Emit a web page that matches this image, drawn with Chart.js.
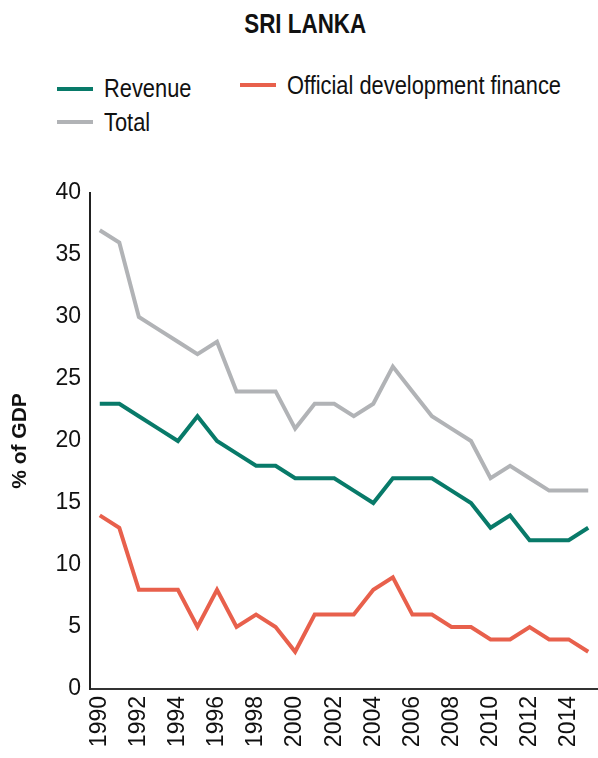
<!DOCTYPE html>
<html>
<head>
<meta charset="utf-8">
<script src="https://cdn.jsdelivr.net/npm/chart.js@4.4.1/dist/chart.umd.min.js"></script>
<style>
  html, body { margin: 0; padding: 0; background: #fff; }
  #wrap { position: relative; width: 598px; height: 758px; font-family: "Liberation Sans", Arial, sans-serif; color: #111; }
  #title { position: absolute; left: 0; width: 610px; top: 10px; text-align: center; }
  #title span { display: inline-block; font-weight: bold; font-size: 28px; line-height: 28px; transform: scaleX(0.8); }
  .lg { position: absolute; font-size: 26px; line-height: 26px; white-space: nowrap; transform: scaleX(0.84); transform-origin: 0 0; }
  .sw { position: absolute; width: 36px; height: 4px; }
  canvas { position: absolute; left: 0; top: 0; }
</style>
</head>
<body>
<div id="wrap">
  <div id="title"><span>SRI LANKA</span></div>
  <div class="sw" style="left:57px;top:87px;background:#087a69"></div>
  <div class="lg" style="left:104px;top:75px">Revenue</div>
  <div class="sw" style="left:240px;top:83px;background:#e8604c"></div>
  <div class="lg" style="left:287px;top:72px">Official development finance</div>
  <div class="sw" style="left:57px;top:120px;background:#b1b3b6"></div>
  <div class="lg" style="left:104px;top:109px">Total</div>
  <canvas id="c" width="598" height="758"></canvas>
</div>
<script>
// years 1990-2015
const years = ["1990","1991","1992","1993","1994","1995","1996","1997","1998","1999","2000","2001","2002",
  "2003","2004","2005","2006","2007","2008","2009","2010","2011","2012","2013","2014","2015"];
const revenue = [23,23,22,21,20,22,20,19,18,18,17,17,17,16,15,17,17,17,16,15,13,14,12,12,12,13];
const odf     = [14,13,8,8,8,5,8,5,6,5,3,6,6,6,8,9,6,6,5,5,4,4,5,4,4,3];
const total   = [37,36,30,29,28,27,28,24,24,24,21,23,23,22,23,26,24,22,21,20,17,18,17,16,16,16];

const sans = "'Liberation Sans', Arial, sans-serif";

new Chart(document.getElementById("c"), {
  type: "line",
  data: {
    labels: years,
    datasets: [
      { label: "Total", data: total, borderColor: "#b1b3b6" },
      { label: "Revenue", data: revenue, borderColor: "#087a69" },
      { label: "Official development finance", data: odf, borderColor: "#e8604c" }
    ]
  },
  options: {
    responsive: false,
    animation: false,
    datasets: { line: { borderWidth: 4, pointRadius: 0, tension: 0, fill: false } },
    layout: { padding: { top: 193, left: 0, right: 0, bottom: 0 } },
    plugins: { legend: { display: false }, tooltip: { enabled: false } },
    scales: {
      x: {
        offset: true,
        grid: { display: false, drawTicks: false },
        border: { display: true, color: "#333", width: 2 },
        ticks: {
          autoSkip: false, maxRotation: 90, minRotation: 90, padding: 7,
          color: "#111", font: { family: sans, size: 23 },
          callback: (v, i) => (i % 2 === 0 ? years[i] : "")
        },
        afterFit: (s) => { s.height = 69; s.paddingLeft = 0; s.paddingRight = 0; }
      },
      y: {
        min: 0, max: 40,
        grid: { display: false, drawTicks: false },
        border: { display: true, color: "#222", width: 2 },
        ticks: { stepSize: 5, padding: 9, color: "#111", font: { family: sans, size: 23 } },
        title: { display: true, text: "% of GDP", color: "#111", padding: { top: 8, bottom: 0 },
                 font: { family: sans, size: 21, weight: "bold" } },
        afterFit: (s) => { s.width = 90; s.paddingTop = 0; s.paddingBottom = 0; }
      }
    }
  }
});
</script>
</body>
</html>
